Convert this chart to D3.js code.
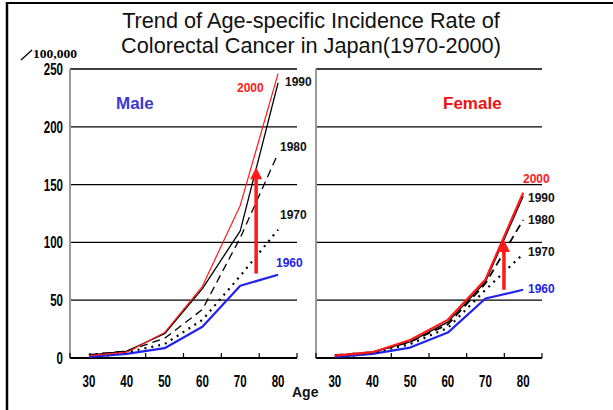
<!DOCTYPE html>
<html><head><meta charset="utf-8">
<script src="https://cdn.jsdelivr.net/npm/d3@7"></script>
<style>body{margin:0;background:#fff}svg{display:block}</style>
</head><body>
<svg id="c" width="613" height="410"></svg>
<script>
const ages = [30, 40, 50, 60, 70, 80];
const yTicks = [0, 50, 100, 150, 200, 250];
const years = ["2000", "1990", "1980", "1970", "1960"];
// Male incidence per 100,000
const male2000 = [2, 5, 22, 62, 132, 246];
const male1990 = [2.5, 6, 21, 60, 110, 238];
const male1980 = [3, 6, 17, 42, 104, 177];
const male1970 = [3, 5, 12, 33, 71, 111];
const male1960 = [1, 3.5, 8.5, 27, 62.5, 72];
// Female incidence per 100,000
const female2000 = [2, 5, 15.6, 33, 68, 143];
const female1990 = [2, 5, 14, 31, 66, 140];
const female1980 = [2.5, 5, 14, 29, 64.5, 119.5];
const female1970 = [2, 4.5, 12, 26, 59, 90];
const female1960 = [1, 3.5, 9, 22, 51.5, 59];
// label anchor values (data units) for year labels
const maleLabelVals = [230, 235, 179, 120, 79];
const femaleLabelVals = [151.5, 135, 116, 88, 56];
// arrow (age position, from value, to value)
const maleArrow = [74.2, 73, 165];
const femaleArrow = [74.9, 59, 102];

const svg = d3.select("#c");
const RED = "#ff1a1a", BLUE = "#2222ee", PBLUE = "#3a3ad0";

// frame
svg.append("line").attr("x1", 7).attr("x2", 7).attr("y1", 2).attr("y2", 410).attr("stroke", "#000").attr("stroke-width", 2.5);
svg.append("line").attr("x1", 6).attr("x2", 613).attr("y1", 3).attr("y2", 3).attr("stroke", "#000").attr("stroke-width", 2);

// title
const title = svg.append("text").attr("text-anchor", "middle")
  .attr("font-family", "Liberation Sans, Arial, sans-serif").attr("font-size", 21.7).attr("fill", "#111");
title.append("tspan").attr("x", 311).attr("y", 28).text("Trend of Age-specific Incidence Rate of");
title.append("tspan").attr("x", 311).attr("y", 53).text("Colorectal Cancer in Japan(1970-2000)");

// unit
svg.append("line").attr("x1", 21).attr("y1", 60).attr("x2", 32).attr("y2", 50).attr("stroke", "#000").attr("stroke-width", 1.3);
svg.append("text").attr("x", 33).attr("y", 58).attr("font-family", "Liberation Serif, Times New Roman, serif")
  .attr("font-weight", "bold").attr("font-size", 13.5).text("100,000");

const y = d3.scaleLinear().domain([0, 250]).range([358, 69]);

function narrowText(g, x, yy, txt, anchor) {
  g.append("g").attr("transform", `translate(${x},${yy}) scale(0.72,1)`)
    .append("text").attr("text-anchor", anchor)
    .attr("font-family", "Liberation Sans Narrow, Arial Narrow, Liberation Sans, sans-serif")
    .attr("font-weight", "bold").attr("font-size", 16).attr("fill", "#000").text(txt);
}

function panel(x0, x1, series, labelVals, arrow, showY, label, labelColor, labelX, yrLabelX, thick) {
  const g = svg.append("g");
  const x = d3.scaleBand().domain(ages).range([x0, x1]).padding(0);
  const bw = x.bandwidth();
  const cx = a => x(a) + bw / 2;
  const ax = a => cx(70) + (a - 70) / 10 * bw;
  // gridlines
  g.selectAll(".grid").data(yTicks.filter(t => t > 0)).join("line")
    .attr("x1", x0).attr("x2", x1).attr("y1", d => y(d)).attr("y2", d => y(d))
    .attr("stroke", "#000").attr("stroke-width", 1.3);
  // y axis line (grey)
  g.append("line").attr("x1", x0).attr("x2", x0).attr("y1", y(250)).attr("y2", y(0))
    .attr("stroke", "#999").attr("stroke-width", 2);
  // x axis
  g.append("line").attr("x1", x0).attr("x2", x1).attr("y1", y(0)).attr("y2", y(0))
    .attr("stroke", "#000").attr("stroke-width", 2);
  const bounds = ages.map(a => x(a)).concat([x1]);
  g.selectAll(".tk").data(bounds).join("line")
    .attr("x1", d => d).attr("x2", d => d).attr("y1", y(0)).attr("y2", y(0) - 5)
    .attr("stroke", "#000").attr("stroke-width", 1.2);
  ages.forEach(a => narrowText(g, cx(a), 387, a, "middle"));
  if (showY) yTicks.forEach(t => narrowText(g, x0 - 7, y(t) + 6, t, "end"));

  const line = d3.line().x((d, i) => cx(ages[i])).y(d => y(d));
  const styles = [
    {c: RED, w: thick ? 2.2 : 1.2, dash: null},
    {c: "#000", w: 1.3, dash: null},
    {c: "#000", w: thick ? 1.8 : 1.3, dash: "8,5"},
    {c: "#000", w: 2.2, dash: "2,5"},
    {c: BLUE, w: 2.2, dash: null}
  ];
  [4, 3, 2, 1, 0].forEach(i => {
    const s = styles[i];
    g.append("path").attr("d", line(series[i])).attr("fill", "none")
      .attr("stroke", s.c).attr("stroke-width", s.w)
      .attr("stroke-dasharray", s.dash).attr("stroke-linejoin", "round");
  });
  // arrow
  const axp = ax(arrow[0]);
  const yb = y(arrow[1]), yt = y(arrow[2]);
  g.append("line").attr("x1", axp).attr("x2", axp).attr("y1", yb).attr("y2", yt + 10)
    .attr("stroke", RED).attr("stroke-width", 3.5);
  g.append("path").attr("d", `M${axp},${yt} L${axp - 6},${yt + 12} L${axp + 6},${yt + 12} Z`).attr("fill", RED);
  // year labels
  years.forEach((yr, i) => {
    const col = i === 0 ? RED : (i === 4 ? BLUE : "#111");
    g.append("text").attr("x", yrLabelX[i]).attr("y", y(labelVals[i]))
      .attr("font-family", "Liberation Sans, Arial, sans-serif").attr("font-weight", "bold")
      .attr("font-size", 12).attr("fill", col).text(yr);
  });
  // panel label
  g.append("text").attr("x", labelX).attr("y", 109)
    .attr("font-family", "Liberation Sans, Arial, sans-serif").attr("font-weight", "bold")
    .attr("font-size", 17).attr("fill", labelColor).text(label);
}

panel(70, 297, [male2000, male1990, male1980, male1970, male1960], maleLabelVals, maleArrow, true,
  "Male", PBLUE, 116, [237, 285, 280, 280, 276], false);
panel(316, 542, [female2000, female1990, female1980, female1970, female1960], femaleLabelVals, femaleArrow, false,
  "Female", "#ee1111", 443, [523, 528, 528, 528, 528], true);

svg.append("text").attr("x", 292).attr("y", 397)
  .attr("font-family", "Liberation Sans, Arial, sans-serif").attr("font-weight", "bold")
  .attr("font-size", 14).attr("fill", "#111").text("Age");
</script>
</body></html>
